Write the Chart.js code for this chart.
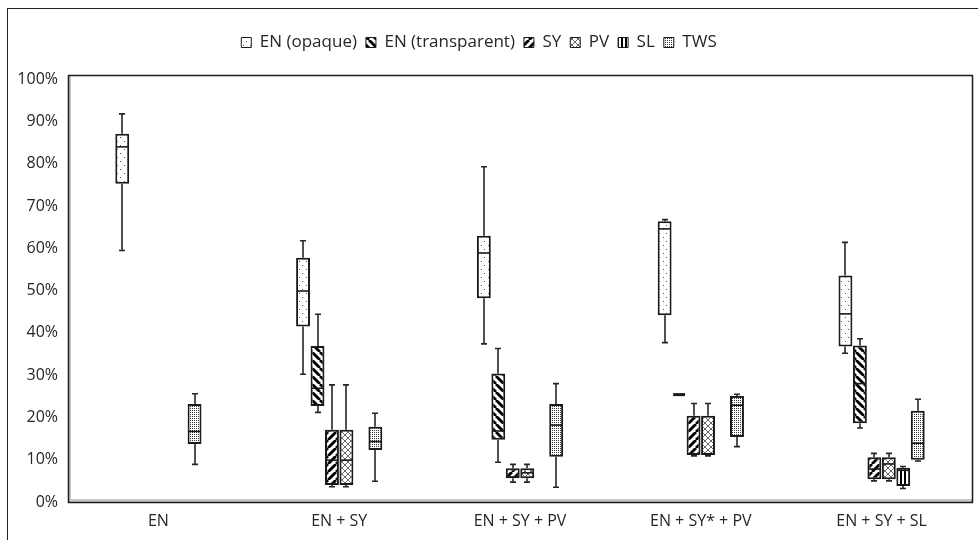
<!DOCTYPE html>
<html>
<head>
<meta charset="utf-8">
<script src="https://cdn.jsdelivr.net/npm/chart.js@4"></script>
<style>
  body { margin: 0; background: #fff; }
  #wrap { width: 978px; height: 540px; }
</style>
</head>
<body>
<div id="wrap"><canvas id="boxChart" width="978" height="540"></canvas></div>
<script>
// categories and series (percent)
const categories = ['EN', 'EN + SY', 'EN + SY + PV', 'EN + SY* + PV', 'EN + SY + SL'];
const seriesNames = ['EN (opaque)', 'EN (transparent)', 'SY', 'PV', 'SL', 'TWS'];

// each entry is [min, q1, median, q3, max], null = not in that group
const enOpaque = [[59.5, 75.3, 84.0, 87.1, 91.8], [30.2, 41.5, 49.9, 57.8, 61.8], [37.4, 48.2, 58.9, 63.0, 79.3], [37.7, 44.2, 64.6, 66.4, 66.8], [35.2, 36.8, 44.5, 53.6, 61.4]];
const enTransparent = [null, [21.2, 22.7, 26.9, 36.9, 44.4], [9.4, 14.7, 16.8, 30.4, 36.3], [25.4, 25.4, 25.4, 25.4, 25.4], [17.5, 18.6, 28.0, 37.0, 38.6]];
const sy = [null, [3.6, 4.0, 9.9, 17.1, 27.7], [4.7, 5.6, 5.9, 8.0, 8.9], [10.9, 11.1, 11.4, 20.4, 23.3], [5.0, 5.4, 7.8, 10.6, 11.5]];
const pv = [null, [3.6, 4.0, 9.9, 17.1, 27.7], [4.7, 5.6, 6.9, 8.0, 8.9], [10.9, 11.1, 11.4, 20.4, 23.3], [5.0, 5.4, 9.0, 10.6, 11.5]];
const sl = [null, null, null, null, [3.2, 3.8, 7.5, 8.1, 8.4]];
const tws = [[8.9, 13.7, 16.7, 23.2, 25.6], [4.9, 12.3, 14.3, 17.8, 21.0], [3.5, 10.7, 18.2, 23.2, 28.0], [13.1, 15.4, 22.9, 25.1, 25.5], [9.7, 10.0, 13.9, 21.6, 24.3]];
const yTicks = [0, 10, 20, 30, 40, 50, 60, 70, 80, 90, 100];

const allSeries = [enOpaque, enTransparent, sy, pv, sl, tws];
const FONT = "'Open Sans', 'Noto Sans', sans-serif";
const INK = '#262626';

// hatch fills like the Excel pattern fills
function makePattern(w, h, draw) {
    const c = document.createElement('canvas');
    c.width = w;
    c.height = h;
    const g = c.getContext('2d');
    g.fillStyle = '#fff';
    g.fillRect(0, 0, w, h);
    draw(g);
    return g.createPattern(c, 'repeat');
}

const patterns = [
    // sparse dots
    makePattern(7, 8, g => {
        g.fillStyle = '#555';
        g.fillRect(1, 1, 1, 1);
        g.fillRect(5, 5, 1, 1);
    }),
    // wide downward diagonal
    makePattern(8, 8, g => {
        g.strokeStyle = '#000';
        g.lineWidth = 2.8;
        [-8, 0, 8].forEach(o => {
            g.beginPath();
            g.moveTo(o, 0);
            g.lineTo(o + 8, 8);
            g.stroke();
        });
    }),
    // wide upward diagonal
    makePattern(8, 8, g => {
        g.strokeStyle = '#000';
        g.lineWidth = 2.8;
        [-8, 0, 8].forEach(o => {
            g.beginPath();
            g.moveTo(o, 8);
            g.lineTo(o + 8, 0);
            g.stroke();
        });
    }),
    // diagonal crosshatch
    makePattern(6, 6, g => {
        g.strokeStyle = '#666';
        g.lineWidth = 1;
        [-6, 0, 6].forEach(o => {
            g.beginPath();
            g.moveTo(o, 0);
            g.lineTo(o + 6, 6);
            g.moveTo(o, 6);
            g.lineTo(o + 6, 0);
            g.stroke();
        });
    }),
    // vertical stripes
    makePattern(4, 1, g => {
        g.fillStyle = '#000';
        g.fillRect(0, 0, 2, 1);
    }),
    // dense dots
    makePattern(2, 2, g => {
        g.fillStyle = '#333';
        g.fillRect(0, 0, 1, 1);
    })
];

const datasets = allSeries.map((s, i) => ({
    label: seriesNames[i],
    data: s.map(d => d ? [d[1], d[3]] : null),
    backgroundColor: patterns[i],
    borderColor: '#1a1a1a',
    borderWidth: 2,
    borderSkipped: false,
    barPercentage: 0.96,
    categoryPercentage: 0.48
}));

// whiskers and medians on top of the floating bars
const boxPlotPlugin = {
    id: 'boxPlot',
    afterDatasetsDraw(chart) {
        const ctx = chart.ctx;
        const y = chart.scales.y;
        ctx.save();
        allSeries.forEach((s, i) => {
            const meta = chart.getDatasetMeta(i);
            s.forEach((d, j) => {
                if (!d) return;
                const el = meta.data[j];
                const x = Math.round(el.x);
                const half = el.width / 2;
                const [mn, q1, med, q3, mx] = d.map(v => y.getPixelForValue(v));
                ctx.strokeStyle = INK;
                ctx.lineWidth = 1.6;
                ctx.beginPath();
                if (mx < q3) {
                    ctx.moveTo(x, q3);
                    ctx.lineTo(x, mx);
                    ctx.moveTo(x - 3, mx);
                    ctx.lineTo(x + 3, mx);
                }
                if (mn > q1) {
                    ctx.moveTo(x, q1);
                    ctx.lineTo(x, mn);
                    ctx.moveTo(x - 3, mn);
                    ctx.lineTo(x + 3, mn);
                }
                ctx.stroke();
                ctx.strokeStyle = '#1a1a1a';
                ctx.lineWidth = q1 - q3 < 1 ? 3 : 1.6;
                ctx.beginPath();
                ctx.moveTo(el.x - half + 1, med);
                ctx.lineTo(el.x + half - 1, med);
                ctx.stroke();
            });
        });
        ctx.restore();
    }
};

// white page, outer border and the plot frame with its shadow
const framePlugin = {
    id: 'frame',
    beforeDraw(chart) {
        const ctx = chart.ctx;
        ctx.save();
        ctx.fillStyle = '#fff';
        ctx.fillRect(0, 0, chart.width, chart.height);
        ctx.strokeStyle = '#222';
        ctx.lineWidth = 1;
        ctx.strokeRect(7.5, 8.5, chart.width, chart.height);
        ctx.restore();
    },
    beforeDatasetsDraw(chart) {
        const a = chart.chartArea;
        const ctx = chart.ctx;
        ctx.save();
        ctx.fillStyle = '#c8c8c8';
        ctx.fillRect(a.left + 1, a.top + 1, 2, a.bottom - a.top - 1);
        ctx.fillRect(a.left + 1, a.bottom - 3, a.right - a.left - 1, 3);
        ctx.strokeStyle = '#1a1a1a';
        ctx.lineWidth = 1.5;
        ctx.strokeRect(a.left + 0.5, a.top + 0.5, a.right - a.left, a.bottom - a.top);
        ctx.restore();
    },
    beforeLayout(chart) {
        const lg = chart.legend;
        if (lg && !lg._patched) {
            // extra room under the legend, and nudge it a little left
            const fit = lg.fit;
            lg.fit = function () {
                fit.call(this);
                this.height += 14;
            };
            const draw = lg.draw;
            lg.draw = function () {
                this.ctx.save();
                this.ctx.translate(-7, 0);
                draw.call(this);
                this.ctx.restore();
            };
            lg._patched = true;
        }
    }
};

const chart = new Chart(document.getElementById('boxChart').getContext('2d'), {
    type: 'bar',
    data: { labels: categories, datasets: datasets },
    options: {
        responsive: false,
        animation: false,
        layout: { padding: { top: 25, right: 6, left: 0, bottom: 0 } },
        scales: {
            x: {
                grid: { display: false, drawTicks: false },
                border: { display: false },
                ticks: { color: INK, font: { family: FONT, size: 16 }, padding: 10, maxRotation: 0 },
                afterFit(scale) { scale.height = 38; }
            },
            y: {
                min: 0,
                max: 101,
                grid: { display: false, drawTicks: false },
                border: { display: false },
                afterBuildTicks(scale) { scale.ticks = yTicks.map(v => ({ value: v })); },
                ticks: {
                    color: INK,
                    font: { family: FONT, size: 16 },
                    padding: 10,
                    callback: v => v + '%'
                },
                afterFit(scale) { scale.width = 68; }
            }
        },
        plugins: {
            tooltip: { enabled: false },
            legend: {
                position: 'top',
                labels: {
                    color: INK,
                    font: { family: FONT, size: 17 },
                    boxWidth: 10,
                    boxHeight: 10,
                    padding: 9,
                    generateLabels(chart) {
                        const items = Chart.defaults.plugins.legend.labels.generateLabels(chart);
                        items.forEach(it => { it.lineWidth = 1; });
                        return items;
                    }
                }
            }
        }
    },
    plugins: [framePlugin, boxPlotPlugin]
});
</script>
</body>
</html>
